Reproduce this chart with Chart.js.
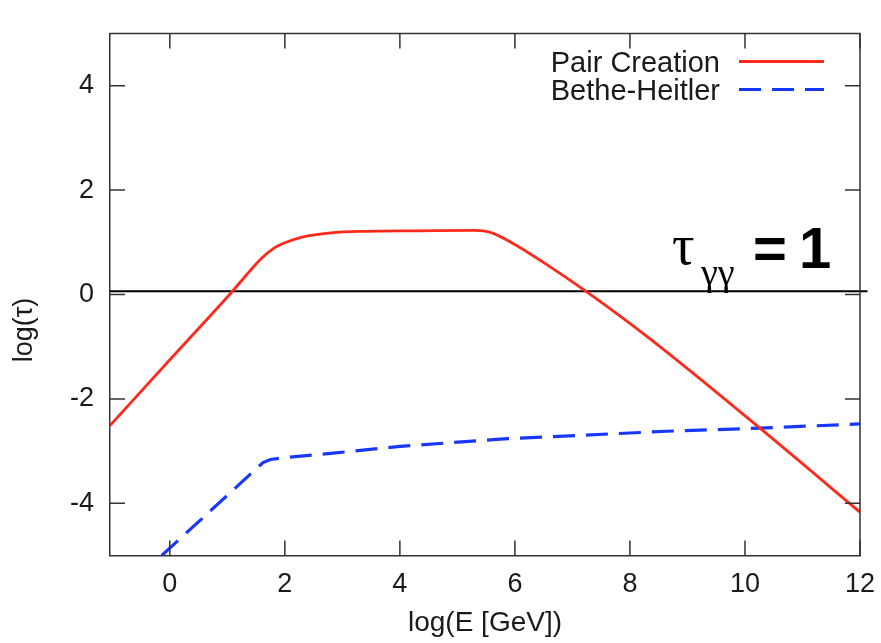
<!DOCTYPE html>
<html>
<head>
<meta charset="utf-8">
<script src="https://cdn.jsdelivr.net/npm/chart.js"></script>
<style>
  html, body { margin: 0; padding: 0; background: #fff; }
  #wrap { width: 881px; height: 643px; }
</style>
</head>
<body>
<div id="wrap"><canvas id="chart" width="881" height="643"></canvas></div>
<script>
// values
const xTicks = [0, 2, 4, 6, 8, 10, 12];
const yTicks = [-4, -2, 0, 2, 4];

const pairX = [-1.04, 0, 1.04, 1.6, 1.8, 2.0, 2.3, 2.8, 3.4, 4.3, 5.3, 5.45, 5.6, 5.9, 6.6, 7.25, 8.35, 10.26, 12];
const pairY = [-2.51, -1.25, 0, 0.7, 0.88, 0.99, 1.1, 1.18, 1.21, 1.22, 1.23, 1.22, 1.18, 1.02, 0.54, 0.05, -0.85, -2.56, -4.17];

const betheX = [-0.14, 1.62, 1.75, 1.95, 2.84, 4, 5.74, 8.64, 10.26, 12];
const betheY = [-5.0, -3.22, -3.16, -3.13, -3.04, -2.91, -2.77, -2.62, -2.56, -2.48];

const tauX = [-1.04, 12.13];
const tauY = [0.06, 0.06];

const RED = "#ff2a1c";
const BLUE = "#1838ff";
const AXIS = "#333";
const TEXT = "#1a1a1a";
const SANS = "'Liberation Sans', Arial, sans-serif";

const toPoints = (xs, ys) => xs.map((x, i) => ({ x: x, y: ys[i] }));

// inward ticks on all four sides + closing the frame
const frameTicks = {
    id: "frameTicks",
    afterDatasetsDraw(chart) {
        const { ctx, chartArea: a, scales } = chart;
        ctx.save();
        ctx.strokeStyle = AXIS;
        ctx.lineWidth = 1.5;
        ctx.beginPath();
        ctx.moveTo(a.left, a.top);
        ctx.lineTo(a.right, a.top);
        ctx.lineTo(a.right, a.bottom);
        ctx.stroke();
        ctx.beginPath();
        xTicks.forEach((v) => {
            const px = scales.x.getPixelForValue(v);
            ctx.moveTo(px, a.bottom);
            ctx.lineTo(px, a.bottom - 15);
            ctx.moveTo(px, a.top);
            ctx.lineTo(px, a.top + 15);
        });
        yTicks.forEach((v) => {
            const py = scales.y.getPixelForValue(v);
            ctx.moveTo(a.left, py);
            ctx.lineTo(a.left + 15, py);
            ctx.moveTo(a.right, py);
            ctx.lineTo(a.right - 15, py);
        });
        ctx.stroke();
        ctx.restore();
    },
};

// gnuplot-style key, the tau label and the y title
const annotations = {
    id: "annotations",
    afterDraw(chart) {
        const { ctx } = chart;
        ctx.save();

        // key
        const keyRows = [
            { ds: chart.data.datasets[0], y: 72 },
            { ds: chart.data.datasets[1], y: 100 },
        ];
        ctx.font = "29px " + SANS;
        ctx.textAlign = "right";
        ctx.textBaseline = "alphabetic";
        keyRows.forEach((row) => {
            ctx.fillStyle = TEXT;
            ctx.fillText(row.ds.label, 720, row.y);
            ctx.strokeStyle = row.ds.borderColor;
            ctx.lineWidth = row.ds.borderWidth;
            ctx.setLineDash(row.ds.borderDash || []);
            ctx.beginPath();
            ctx.moveTo(739, row.y - 10.5);
            ctx.lineTo(824, row.y - 10.5);
            ctx.stroke();
        });
        ctx.setLineDash([]);

        // tau_gg = 1
        ctx.fillStyle = "#000";
        ctx.textAlign = "left";
        ctx.font = "56px 'Liberation Serif', 'DejaVu Serif', serif";
        ctx.fillText("τ", 672, 264);
        ctx.font = "38px 'Liberation Serif', 'DejaVu Serif', serif";
        ctx.fillText("γγ", 701, 285);
        ctx.font = "bold 58px " + SANS;
        ctx.fillText("=", 753, 268);
        ctx.fillText("1", 799, 268);

        // y axis title
        ctx.font = "27px " + SANS;
        ctx.fillStyle = TEXT;
        ctx.translate(25, 330);
        ctx.rotate(-Math.PI / 2);
        ctx.textAlign = "center";
        ctx.textBaseline = "middle";
        ctx.fillText("log(τ)", 0, 0);
        ctx.restore();
    },
};

new Chart(document.getElementById("chart"), {
    type: "line",
    data: {
        datasets: [
            {
                label: "Pair Creation",
                data: toPoints(pairX, pairY),
                borderColor: RED,
                borderWidth: 2.8,
                cubicInterpolationMode: "monotone",
                pointRadius: 0,
                fill: false,
            },
            {
                label: "Bethe-Heitler",
                data: toPoints(betheX, betheY),
                borderColor: BLUE,
                borderWidth: 3.2,
                borderDash: [22, 11],
                tension: 0,
                pointRadius: 0,
                fill: false,
            },
            {
                label: "",
                data: toPoints(tauX, tauY),
                borderColor: "#000",
                borderWidth: 2,
                pointRadius: 0,
                fill: false,
                clip: { left: 0, top: 0, right: 12, bottom: 0 },
            },
        ],
    },
    options: {
        responsive: false,
        animation: false,
        layout: { padding: { top: 33.5, right: 21, left: 0, bottom: 0 } },
        plugins: {
            legend: { display: false },
            tooltip: { enabled: false },
        },
        scales: {
            x: {
                type: "linear",
                min: -1.04,
                max: 12,
                afterBuildTicks: (s) => { s.ticks = xTicks.map((v) => ({ value: v })); },
                afterFit: (s) => {
                    s.height = 87.5;
                    s.paddingLeft = 0;
                    s.paddingRight = 0;
                },
                grid: { drawOnChartArea: false, drawTicks: false },
                border: { display: true, color: AXIS, width: 1.5 },
                ticks: {
                    padding: 13,
                    color: TEXT,
                    font: { family: SANS, size: 27 },
                },
                title: {
                    display: true,
                    text: "log(E [GeV])",
                    color: TEXT,
                    padding: { top: 0, bottom: 3 },
                    font: { family: SANS, size: 28 },
                },
            },
            y: {
                type: "linear",
                min: -5,
                max: 5,
                afterBuildTicks: (s) => { s.ticks = yTicks.map((v) => ({ value: v })); },
                afterFit: (s) => {
                    s.width = 110;
                    s.paddingTop = 0;
                    s.paddingBottom = 0;
                },
                grid: { drawOnChartArea: false, drawTicks: false },
                border: { display: true, color: AXIS, width: 1.5 },
                ticks: {
                    padding: 16,
                    color: TEXT,
                    font: { family: SANS, size: 27 },
                },
            },
        },
    },
    plugins: [frameTicks, annotations],
});
</script>
</body>
</html>
